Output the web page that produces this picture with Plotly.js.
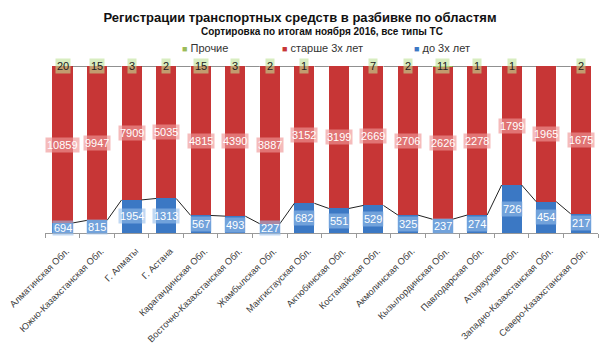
<!DOCTYPE html>
<html><head><meta charset="utf-8">
<script src="https://cdn.plot.ly/plotly-3.0.1.min.js"></script>
<style>html,body{margin:0;padding:0;background:#fff}#c{width:600px;height:345px}</style>
</head><body><div id="c"></div>
<script>
const categories = ["Алматинская Обл.","Южно-Казахстанская Обл.","Г. Алматы","Г. Астана","Карагандинская Обл.","Восточно-Казахстанская Обл.","Жамбылская Обл.","Мангистауская Обл.","Актюбинская Обл.","Костанайская Обл.","Акмолинская Обл.","Кызылординская Обл.","Павлодарская Обл.","Атырауская Обл.","Западно-Казахстанская Обл.","Северо-Казахстанская Обл."];
const upTo3 = [694,815,1954,1313,567,493,227,682,551,529,325,237,274,726,454,217];
const over3 = [10859,9947,7909,5035,4815,4390,3887,3152,3199,2669,2706,2626,2278,1799,1965,1675];
const other = [20,15,3,2,15,3,2,1,0,7,2,11,1,1,0,2];
const seriesNames = ["до 3х лет","старше 3х лет","Прочие"];

const FONT = "Liberation Sans, Arial, sans-serif";
const cBlue = "#3b78c4", cRed = "#c73636", cGreen = "#9bbb59";
const totals = categories.map((_, i) => upTo3[i] + over3[i] + other[i]);
const pBlue = upTo3.map((v, i) => v / totals[i] * 100);
const pRed = over3.map((v, i) => v / totals[i] * 100);

const traces = [
  {type:"bar", name:seriesNames[0], x:categories, y:upTo3, marker:{color:cBlue}, hoverinfo:"skip", showlegend:false},
  {type:"bar", name:seriesNames[1], x:categories, y:over3, marker:{color:cRed}, hoverinfo:"skip", showlegend:false},
  {type:"bar", name:seriesNames[2], x:categories, y:other, marker:{color:cGreen}, hoverinfo:"skip", showlegend:false}
];

const bargap = 0.42, halfW = (1 - bargap) / 2;
const shapes = [];
for (let i = 0; i < categories.length - 1; i++) {
  shapes.push({type:"line", xref:"x", yref:"y", x0:i+halfW, x1:i+1-halfW, y0:pBlue[i], y1:pBlue[i+1], line:{color:"#222", width:1}});
  shapes.push({type:"line", xref:"x", yref:"y", x0:i+halfW, x1:i+1-halfW, y0:100, y1:100, line:{color:"#222", width:1}});
}

const annotations = [];
categories.forEach((c, i) => {
  annotations.push({x:c, y:pBlue[i]/2, xref:"x", yref:"y", text:String(upTo3[i]), showarrow:false,
    font:{family:FONT, size:11, color:"#fff"}, bgcolor:"rgba(150,190,235,0.6)", borderpad:1});
  annotations.push({x:c, y:pBlue[i] + pRed[i]/2, xref:"x", yref:"y", text:String(over3[i]), showarrow:false,
    font:{family:FONT, size:11, color:"#fff"}, bgcolor:"rgba(240,150,150,0.65)", borderpad:1});
  if (other[i] > 0) {
    annotations.push({x:c, y:100, xref:"x", yref:"y", text:String(other[i]), showarrow:false,
      font:{family:FONT, size:11, color:"#222"}, bgcolor:"rgba(190,225,150,0.6)", borderpad:1});
  }
});
annotations.push({xref:"paper", yref:"paper", x:0.5, y:1, yshift:35, xanchor:"center", yanchor:"middle", showarrow:false,
  text:"<b>Сортировка по итогам ноября 2016, все типы ТС</b>", font:{family:FONT, size:10, color:"#111"}});

// legend drawn as text (order as in reference)
const legendOrder = [2, 1, 0];
const legendColors = [cBlue, cRed, cGreen];
const legendX = [0.244, 0.425, 0.664];
legendOrder.forEach((s, k) => {
  annotations.push({xref:"paper", yref:"paper", x:legendX[k], y:1, yshift:18, xanchor:"left", yanchor:"middle", showarrow:false,
    text:"<span style='color:" + legendColors[s] + "; font-size:9px'>■</span> " + seriesNames[s],
    font:{family:FONT, size:11, color:"#333"}});
});

const layout = {
  width:600, height:345,
  margin:{l:45, r:2, t:66, b:112},
  paper_bgcolor:"#fff", plot_bgcolor:"#fff",
  barmode:"stack", barnorm:"percent", bargap:bargap,
  title:{text:"<b>Регистрации транспортных средств в разбивке по областям</b>", x:0.5, xanchor:"center", y:0.948, yanchor:"middle",
    font:{family:FONT, size:13, color:"#111"}},
  showlegend:false,
  xaxis:{type:"category", tickangle:-45, ticks:"outside", tickson:"boundaries", ticklen:4, tickcolor:"#999",
    ticklabelstandoff:8, ticklabelshift:4,
    showline:true, linecolor:"#999", linewidth:1, showgrid:false,
    tickfont:{family:FONT, size:9.3, color:"#404040"}},
  yaxis:{range:[0,100], visible:false, showgrid:false, zeroline:false},
  shapes:shapes, annotations:annotations
};
Plotly.newPlot("c", traces, layout, {staticPlot:true, displayModeBar:false});
</script></body></html>
